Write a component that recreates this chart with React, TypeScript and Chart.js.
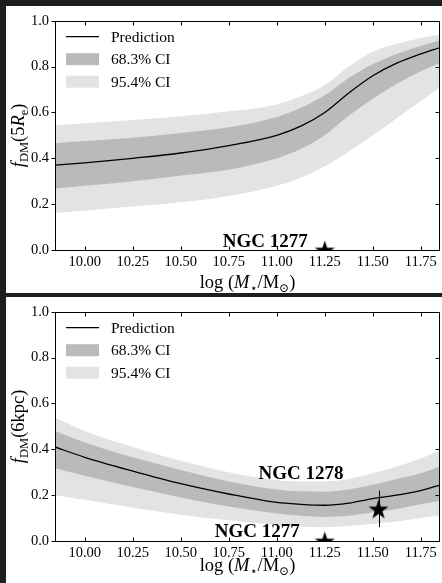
import { useEffect, useRef } from "react";
import { Chart, registerables } from "chart.js";

Chart.register(...registerables);

const SERIF = '"Liberation Serif", "DejaVu Serif", "Times New Roman", serif';

// Stellar-mass grid, log(M*/Msun)
const massGrid = [9.845, 10.0, 10.25, 10.5, 10.75, 11.0, 11.125, 11.25, 11.375, 11.5, 11.625, 11.75, 11.85];

// f_DM within 5 R_e
const pred5Re = [0.37, 0.38, 0.40, 0.423, 0.455, 0.50, 0.54, 0.60, 0.685, 0.76, 0.815, 0.855, 0.883];
const lo68_5Re = [0.268, 0.28, 0.30, 0.325, 0.35, 0.40, 0.44, 0.50, 0.585, 0.66, 0.725, 0.78, 0.815];
const hi68_5Re = [0.466, 0.475, 0.49, 0.51, 0.535, 0.58, 0.62, 0.675, 0.75, 0.81, 0.855, 0.89, 0.915];
const lo95_5Re = [0.162, 0.172, 0.19, 0.208, 0.235, 0.28, 0.315, 0.365, 0.43, 0.50, 0.575, 0.65, 0.71];
const hi95_5Re = [0.544, 0.553, 0.567, 0.583, 0.605, 0.635, 0.67, 0.72, 0.80, 0.865, 0.90, 0.925, 0.94];

// f_DM within 6 kpc
const pred6kpc = [0.41, 0.365, 0.305, 0.25, 0.205, 0.168, 0.16, 0.156, 0.165, 0.185, 0.20, 0.22, 0.244];
const lo68_6kpc = [0.317, 0.285, 0.235, 0.19, 0.15, 0.12, 0.11, 0.105, 0.11, 0.125, 0.14, 0.16, 0.175];
const hi68_6kpc = [0.48, 0.43, 0.365, 0.31, 0.26, 0.225, 0.217, 0.215, 0.225, 0.245, 0.27, 0.295, 0.325];
const lo95_6kpc = [0.20, 0.18, 0.145, 0.115, 0.09, 0.07, 0.063, 0.06, 0.065, 0.075, 0.085, 0.10, 0.11];
const hi95_6kpc = [0.538, 0.48, 0.41, 0.35, 0.30, 0.265, 0.26, 0.26, 0.27, 0.295, 0.325, 0.36, 0.395];

// Tick values
const xTickValues = [10.0, 10.25, 10.5, 10.75, 11.0, 11.25, 11.5, 11.75];
const yTickValues = [0, 0.2, 0.4, 0.6, 0.8, 1.0];

const legendLabels = ["Prediction", "68.3% CI", "95.4% CI"];

// Measured galaxies
const ngc1277_5Re = { name: "NGC 1277", x: 11.25, y: 0.0 };
const ngc1277_6kpc = { name: "NGC 1277", x: 11.25, y: 0.0 };
const ngc1278_6kpc = { name: "NGC 1278", x: 11.53, y: 0.14, lo: 0.06, hi: 0.22 };

const DARK = "#bababa";
const LIGHT = "#e3e3e3";

type Seg = { t: string; italic?: boolean; size: number; dy?: number; bold?: boolean };

function segFont(s: Seg) {
  return `${s.italic ? "italic " : ""}${s.bold ? "bold " : ""}${s.size}px ${SERIF}`;
}

function drawRich(ctx: CanvasRenderingContext2D, segs: Seg[], x: number, y: number) {
  let total = 0;
  for (const s of segs) {
    ctx.font = segFont(s);
    total += ctx.measureText(s.t).width;
  }
  let cx = x - total / 2;
  ctx.textAlign = "left";
  ctx.textBaseline = "alphabetic";
  for (const s of segs) {
    ctx.font = segFont(s);
    ctx.fillText(s.t, cx, y + (s.dy || 0));
    cx += ctx.measureText(s.t).width;
  }
}

function makeStar(r: number) {
  const c = document.createElement("canvas");
  const s = Math.ceil(2 * r + 2);
  c.width = s;
  c.height = s;
  const g = c.getContext("2d")!;
  g.translate(s / 2, s / 2 + r * 0.1);
  g.beginPath();
  for (let i = 0; i < 10; i++) {
    const rad = i % 2 === 0 ? r : r * 0.382;
    const a = -Math.PI / 2 + (i * Math.PI) / 5;
    g.lineTo(rad * Math.cos(a), rad * Math.sin(a));
  }
  g.closePath();
  g.fillStyle = "#000";
  g.fill();
  return c;
}

const xTitle: Seg[] = [
  { t: "log", size: 18.5 },
  { t: " (", size: 18.5 },
  { t: "M", size: 18.5, italic: true },
  { t: "⋆", size: 12, dy: 3.5 },
  { t: "/M", size: 18.5 },
  { t: "⊙", size: 12, dy: 3.5 },
  { t: ")", size: 18.5 },
];

type Galaxy = { name: string; x: number; y: number; lo?: number; hi?: number };
type Label = { g: Galaxy; dx: number; dy: number; align: CanvasTextAlign };

type PanelProps = {
  top: number;
  height: number;
  padTop: number;
  xAxisH: number;
  xTitleY: number;
  pred: number[];
  lo68: number[];
  hi68: number[];
  lo95: number[];
  hi95: number[];
  yTitle: Seg[];
  galaxies: Galaxy[];
  labels: Label[];
};

function Panel(p: PanelProps) {
  const ref = useRef<HTMLCanvasElement>(null);

  useEffect(() => {
    const canvas = ref.current!;
    const pts = (arr: number[]) => arr.map((y, i) => ({ x: massGrid[i], y }));
    const star = makeStar(10.5);

    const decor = {
      id: "decor",
      afterDatasetsDraw(chart: any) {
        const ctx: CanvasRenderingContext2D = chart.ctx;
        const xs = chart.scales.x;
        const ys = chart.scales.y;
        ctx.save();
        ctx.strokeStyle = "#000";
        ctx.lineWidth = 1;
        for (const g of p.galaxies) {
          if (g.lo !== undefined && g.hi !== undefined) {
            const px = Math.round(xs.getPixelForValue(g.x)) + 0.5;
            ctx.beginPath();
            ctx.moveTo(px, ys.getPixelForValue(g.hi));
            ctx.lineTo(px, ys.getPixelForValue(g.lo));
            ctx.stroke();
          }
        }
        ctx.restore();
      },
      afterDraw(chart: any) {
        const ctx: CanvasRenderingContext2D = chart.ctx;
        const { left, right, top, bottom } = chart.chartArea;
        const xs = chart.scales.x;
        const ys = chart.scales.y;
        ctx.save();
        ctx.strokeStyle = "#000";
        ctx.lineWidth = 1;
        const L = Math.round(left) + 0.5;
        const R = Math.round(right) - 0.5;
        const T = Math.round(top) + 0.5;
        const B = Math.round(bottom) + 0.5;
        ctx.strokeRect(L, T, R - L, B - T);
        ctx.beginPath();
        for (const v of xTickValues) {
          const px = Math.round(xs.getPixelForValue(v)) + 0.5;
          ctx.moveTo(px, B);
          ctx.lineTo(px, B - 4);
          ctx.moveTo(px, T);
          ctx.lineTo(px, T + 4);
        }
        for (const v of yTickValues) {
          const py = Math.round(ys.getPixelForValue(v)) + 0.5;
          ctx.moveTo(L, py);
          ctx.lineTo(L - 4, py);
          ctx.moveTo(R, py);
          ctx.lineTo(R - 4, py);
        }
        ctx.stroke();

        // legend
        const lx = left + 11;
        const rows = [top + 16, top + 38.5, top + 61];
        ctx.beginPath();
        ctx.lineWidth = 1.3;
        ctx.moveTo(lx, rows[0]);
        ctx.lineTo(lx + 33, rows[0]);
        ctx.stroke();
        ctx.fillStyle = DARK;
        ctx.fillRect(lx, rows[1] - 6, 33, 12);
        ctx.fillStyle = LIGHT;
        ctx.fillRect(lx, rows[2] - 6, 33, 12);
        ctx.fillStyle = "#000";
        ctx.font = `15.5px ${SERIF}`;
        ctx.textAlign = "left";
        ctx.textBaseline = "middle";
        legendLabels.forEach((t, i) => ctx.fillText(t, lx + 45, rows[i] + 1));

        // galaxy names
        ctx.font = `bold 19px ${SERIF}`;
        ctx.textBaseline = "alphabetic";
        for (const lb of p.labels) {
          ctx.textAlign = lb.align;
          ctx.fillText(lb.g.name, xs.getPixelForValue(lb.g.x) + lb.dx, ys.getPixelForValue(lb.g.y) + lb.dy);
        }

        // axis titles
        drawRich(ctx, xTitle, (left + right) / 2, p.xTitleY);
        ctx.save();
        ctx.translate(18, (top + bottom) / 2);
        ctx.rotate(-Math.PI / 2);
        drawRich(ctx, p.yTitle, 0, 0);
        ctx.restore();
        ctx.restore();
      },
    };

    const band = (arr: number[], fillTo: number | false, color?: string) => ({
      data: pts(arr),
      borderWidth: 0,
      borderColor: "rgba(0,0,0,0)",
      pointRadius: 0,
      cubicInterpolationMode: "monotone",
      backgroundColor: color,
      fill: fillTo,
    });

    const chart = new Chart(canvas, {
      type: "line",
      data: {
        datasets: [
          {
            data: pts(p.pred),
            borderColor: "#000",
            borderWidth: 1.3,
            pointRadius: 0,
            cubicInterpolationMode: "monotone",
            fill: false,
          },
          band(p.hi68, 2, DARK),
          band(p.lo68, false),
          band(p.hi95, 4, LIGHT),
          band(p.lo95, false),
          {
            data: p.galaxies.map((g) => ({ x: g.x, y: g.y })),
            showLine: false,
            pointStyle: star as any,
            pointRadius: 10,
            clip: 0,
            order: -1,
          } as any,
        ] as any,
      },
      options: {
        animation: false,
        responsive: false,
        events: [],
        layout: { padding: { top: p.padTop, right: 2, left: 0, bottom: 0 }, autoPadding: false } as any,
        plugins: { legend: { display: false }, tooltip: { enabled: false } },
        scales: {
          x: {
            type: "linear",
            min: 9.845,
            max: 11.85,
            grid: { display: false, drawTicks: false },
            border: { display: false },
            afterBuildTicks: (s: any) => {
              s.ticks = xTickValues.map((v) => ({ value: v }));
            },
            afterFit: (s: any) => {
              s.height = p.xAxisH;
            },
            ticks: {
              padding: 3,
              color: "#000",
              font: { family: SERIF, size: 14.5 },
              maxRotation: 0,
              autoSkip: false,
              callback: (v: any) => Number(v).toFixed(2),
            },
          },
          y: {
            min: 0,
            max: 1,
            grid: { display: false, drawTicks: false },
            border: { display: false },
            afterFit: (s: any) => {
              s.width = 49;
            },
            afterBuildTicks: (s: any) => {
              s.ticks = yTickValues.map((v) => ({ value: v }));
            },
            ticks: {
              padding: 6,
              color: "#000",
              font: { family: SERIF, size: 14.5 },
              callback: (v: any) => Number(v).toFixed(1),
            },
          },
        },
      },
      plugins: [decor],
    });
    return () => chart.destroy();
  }, []);

  return (
    <div
      style={{
        position: "absolute",
        left: 6,
        top: p.top,
        width: 436,
        height: p.height,
        background: "#fff",
        overflow: "hidden",
      }}
    >
      <canvas ref={ref} width={436} height={p.height} style={{ display: "block" }} />
    </div>
  );
}

export default function App() {
  const yTitle5Re: Seg[] = [
    { t: "f", size: 18.5, italic: true },
    { t: "DM", size: 12.5, dy: 4 },
    { t: "(5", size: 18.5 },
    { t: "R", size: 18.5, italic: true },
    { t: "e", size: 12.5, dy: 4 },
    { t: ")", size: 18.5 },
  ];
  const yTitle6kpc: Seg[] = [
    { t: "f", size: 18.5, italic: true },
    { t: "DM", size: 12.5, dy: 4 },
    { t: "(6kpc)", size: 18.5 },
  ];
  return (
    <div
      style={{
        position: "fixed",
        left: 0,
        top: 0,
        width: 442,
        height: 583,
        background: "#1e1e1e",
        overflow: "hidden",
      }}
    >
      <Panel
        top={6}
        height={287}
        padTop={8}
        xAxisH={43}
        xTitleY={282}
        pred={pred5Re}
        lo68={lo68_5Re}
        hi68={hi68_5Re}
        lo95={lo95_5Re}
        hi95={hi95_5Re}
        yTitle={yTitle5Re}
        galaxies={[ngc1277_5Re]}
        labels={[{ g: ngc1277_5Re, dx: -17, dy: -3.5, align: "right" }]}
      />
      <Panel
        top={297}
        height={286}
        padTop={7}
        xAxisH={42}
        xTitleY={274}
        pred={pred6kpc}
        lo68={lo68_6kpc}
        hi68={hi68_6kpc}
        lo95={lo95_6kpc}
        hi95={hi95_6kpc}
        yTitle={yTitle6kpc}
        galaxies={[ngc1277_6kpc, ngc1278_6kpc]}
        labels={[
          { g: ngc1277_6kpc, dx: -25, dy: -4.5, align: "right" },
          { g: ngc1278_6kpc, dx: -35, dy: -30, align: "right" },
        ]}
      />
    </div>
  );
}
